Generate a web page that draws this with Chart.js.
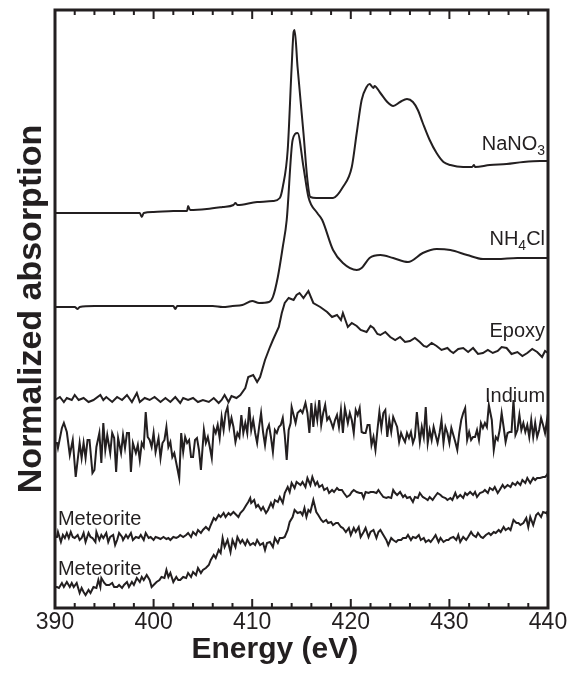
<!DOCTYPE html>
<html>
<head>
<meta charset="utf-8">
<title>N K-edge XANES</title>
<script src="https://cdn.jsdelivr.net/npm/chart.js@4.4.1/dist/chart.umd.min.js"></script>
<style>
  html, body { margin: 0; padding: 0; background: #fff; }
  #wrap { width: 574px; height: 676px; position: relative; }
</style>
</head>
<body>
<div id="wrap"><canvas id="xanes"></canvas></div>
<script>
// Spectra as [energy (eV), absorption (arb. units, stacked)]
const nano3 = [
  [390, 395], [392, 395], [394, 395], [396, 395], [398.6, 395], [398.8, 391], [399.0, 395],
  [400, 396], [402, 397], [403.4, 397], [403.5, 402], [403.7, 398], [405.4, 399], [407, 401],
  [408.1, 403], [408.3, 405], [408.5, 403], [410.5, 406], [412.1, 407], [412.8, 410],
  [413.1, 421], [413.6, 458], [414.0, 541], [414.2, 576], [414.3, 578], [414.6, 541],
  [415.2, 475], [415.6, 428], [415.9, 411], [416.5, 410], [418.2, 410], [419.2, 421],
  [420.1, 441], [420.6, 475], [421.1, 508], [421.6, 521], [421.9, 524], [422.3, 520],
  [422.4, 522], [423.0, 515], [423.7, 506], [424.3, 502], [425.0, 506], [425.7, 509],
  [426.3, 506], [426.8, 498], [427.3, 485], [428.0, 468], [428.7, 455], [429.4, 446],
  [430.1, 443], [431.4, 441], [432.3, 441], [432.5, 443], [432.6, 441], [434.1, 443],
  [435.8, 444], [437.5, 446], [439.2, 447], [440, 447]
];

const nh4cl = [
  [390, 301], [392, 301], [392.3, 299], [392.5, 301], [394, 302], [396, 302], [398, 302],
  [400, 302], [402.0, 302], [402.2, 299], [402.4, 302], [404, 302], [406, 302], [407, 301],
  [408, 302], [409, 303], [410, 307], [410.7, 305], [411.7, 306], [412.1, 311], [412.6, 331],
  [413.1, 361], [413.5, 388], [414.1, 468], [414.6, 475], [415.2, 441], [415.7, 411],
  [416.6, 395], [417.1, 388], [418.2, 358], [419.2, 345], [420.6, 338], [421.1, 340],
  [421.9, 350], [423.0, 353], [424.3, 350], [425.8, 346], [427.3, 355], [428.7, 359],
  [430.1, 358], [431.8, 353], [433.4, 349], [434.8, 349], [436.9, 350], [438.5, 350], [440, 350]
];

const epoxy = [
  [390.0, 208], [390.5, 211], [390.9, 206], [391.2, 210], [391.7, 208], [392.0, 213], [392.4, 208],
  [392.9, 210], [393.4, 206], [393.9, 208], [394.6, 213], [394.9, 208], [395.2, 211], [395.8, 206],
  [396.3, 211], [396.8, 208], [397.3, 213], [397.8, 206], [398.3, 215], [398.6, 206], [399.1, 210],
  [399.6, 208], [400.1, 211], [400.7, 206], [401.2, 210], [401.7, 206], [402.2, 211], [402.7, 205],
  [403.0, 210], [403.5, 208], [404.0, 210], [404.5, 206], [405.0, 208], [405.6, 206], [406.1, 210],
  [406.6, 205], [406.9, 208], [407.2, 213], [407.6, 206], [407.9, 212], [408.4, 210], [408.8, 213],
  [409.3, 220], [409.6, 231], [410.1, 233], [410.5, 226], [410.8, 231], [411.3, 248], [411.8, 261],
  [412.1, 268], [412.7, 281], [413.0, 295], [413.3, 305], [413.7, 310], [414.2, 308], [414.5, 313],
  [414.8, 315], [415.2, 310], [415.7, 317], [416.2, 305], [416.9, 301], [417.6, 296], [418.1, 291],
  [418.6, 293], [419.0, 288], [419.2, 295], [419.7, 281], [420.1, 285], [420.6, 282], [421.0, 278],
  [421.6, 276], [422.0, 282], [422.3, 280], [422.7, 274], [423.0, 273], [423.5, 276], [424.0, 271],
  [424.5, 268], [425.0, 271], [425.5, 266], [426.0, 267], [426.5, 270], [427.0, 266], [427.4, 262],
  [427.7, 261], [428.2, 265], [428.7, 262], [429.2, 258], [429.8, 260], [430.1, 257], [430.4, 255],
  [430.9, 259], [431.4, 260], [431.9, 256], [432.4, 260], [432.9, 254], [433.4, 255], [433.9, 258],
  [434.4, 255], [434.9, 257], [435.3, 261], [435.8, 260], [436.3, 254], [436.9, 256], [437.4, 252],
  [437.9, 255], [438.4, 259], [438.9, 256], [439.4, 251], [439.7, 257], [440.0, 255]
];

const indium = [
  [390.0, 165], [390.2, 165], [390.3, 160], [390.7, 180], [390.9, 185], [391.2, 176], [391.5, 153],
  [391.8, 168], [392.1, 131], [392.5, 165], [392.7, 150], [392.9, 165], [393.1, 150], [393.3, 168],
  [393.5, 168], [393.8, 135], [394.0, 138], [394.2, 161], [394.5, 175], [394.7, 145], [394.9, 185],
  [395.1, 158], [395.3, 173], [395.6, 155], [395.8, 175], [396.0, 170], [396.2, 136], [396.4, 170],
  [396.7, 155], [396.9, 173], [397.1, 160], [397.3, 175], [397.5, 175], [397.7, 136], [397.9, 165],
  [398.2, 155], [398.4, 163], [398.6, 148], [398.8, 165], [399.0, 161], [399.2, 196], [399.4, 171],
  [399.6, 168], [399.8, 161], [400.0, 175], [400.2, 156], [400.5, 170], [400.7, 150], [400.9, 165],
  [401.1, 168], [401.3, 181], [401.5, 161], [401.7, 166], [401.9, 151], [402.1, 155], [402.3, 145],
  [402.6, 130], [402.8, 175], [403.0, 156], [403.2, 171], [403.4, 165], [403.6, 168], [403.8, 151],
  [404.0, 151], [404.2, 168], [404.4, 170], [404.6, 158], [404.8, 138], [405.1, 178], [405.3, 165],
  [405.5, 171], [405.7, 161], [405.9, 150], [406.1, 180], [406.3, 175], [406.5, 183], [406.7, 170],
  [406.9, 191], [407.1, 178], [407.3, 195], [407.5, 201], [407.7, 181], [407.9, 190], [408.1, 181],
  [408.3, 166], [408.5, 175], [408.7, 171], [408.9, 193], [409.1, 175], [409.3, 185], [409.5, 175],
  [409.7, 201], [409.9, 178], [410.1, 188], [410.3, 175], [410.5, 165], [410.7, 181], [410.9, 195],
  [411.1, 176], [411.3, 163], [411.5, 178], [411.7, 183], [411.9, 171], [412.1, 156], [412.3, 178],
  [412.5, 175], [412.7, 181], [412.9, 183], [413.1, 190], [413.3, 173], [413.5, 148], [413.7, 178],
  [413.9, 185], [414.0, 201], [414.2, 193], [414.4, 185], [414.6, 195],
  [414.9, 198], [415.1, 195], [415.4, 205], [415.6, 195], [415.8, 175], [416.0, 205], [416.2, 181],
  [416.4, 201], [416.6, 188], [416.8, 208], [417.0, 183], [417.2, 195], [417.4, 203], [417.6, 188],
  [417.8, 191], [418.0, 186], [418.2, 180], [418.4, 188], [418.6, 193], [418.8, 181], [419.0, 198],
  [419.2, 175], [419.4, 200], [419.7, 185], [419.9, 195], [420.1, 188], [420.3, 175], [420.5, 198],
  [420.7, 193], [420.9, 200], [421.1, 176], [421.3, 175], [421.5, 175], [421.7, 183], [421.9, 183],
  [422.1, 163], [422.3, 171], [422.5, 158], [422.7, 178], [422.9, 196], [423.1, 180], [423.3, 195],
  [423.5, 198], [423.7, 171], [423.9, 188], [424.1, 176], [424.3, 191], [424.5, 186], [424.7, 181],
  [424.9, 166], [425.1, 175], [425.3, 170], [425.5, 166], [425.7, 175], [425.9, 170], [426.1, 176],
  [426.3, 165], [426.5, 171], [426.7, 196], [427.0, 166], [427.2, 181], [427.4, 171], [427.6, 201],
  [427.8, 165], [428.0, 178], [428.2, 168], [428.4, 181], [428.6, 173], [428.8, 165], [429.0, 175],
  [429.2, 188], [429.4, 165], [429.6, 181], [429.8, 175], [430.0, 165], [430.2, 180], [430.4, 173],
  [430.6, 166], [430.8, 158], [431.0, 175], [431.2, 188], [431.4, 195], [431.6, 200], [431.8, 168],
  [432.0, 176], [432.2, 168], [432.4, 171], [432.6, 171], [432.8, 178], [433.0, 168], [433.2, 185],
  [433.4, 180], [433.6, 185], [433.8, 181], [434.0, 203], [434.3, 188], [434.5, 158], [434.7, 171],
  [434.9, 168], [435.1, 178], [435.3, 195], [435.5, 181], [435.7, 166], [435.9, 175], [436.1, 176],
  [436.3, 176], [436.5, 208], [436.7, 173], [436.9, 178], [437.1, 193], [437.3, 178], [437.5, 185],
  [437.7, 176], [437.9, 183], [438.1, 171], [438.3, 188], [438.5, 171], [438.7, 185], [438.9, 171],
  [439.1, 178], [439.3, 190], [439.5, 183], [439.7, 175], [439.9, 188], [440.0, 173]
];

const meteoriteA = [
  [390.0, 71], [390.2, 71], [390.3, 76], [390.6, 66], [390.8, 73], [391.0, 70], [391.2, 75],
  [391.4, 70], [391.6, 76], [391.8, 71], [392.0, 70], [392.3, 73], [392.5, 68], [392.7, 70],
  [392.9, 75], [393.1, 66], [393.4, 75], [393.6, 71], [393.8, 70], [394.1, 66], [394.2, 76],
  [394.5, 68], [394.7, 73], [394.9, 70], [395.2, 75], [395.4, 66], [395.6, 71], [395.9, 73],
  [396.1, 63], [396.3, 68], [396.5, 75], [396.8, 71], [396.9, 68], [397.2, 73], [397.4, 70],
  [397.7, 75], [397.9, 68], [398.2, 71], [398.5, 70], [398.7, 73], [399.0, 68], [399.2, 75],
  [399.5, 70], [399.7, 71], [400.0, 68], [400.2, 71], [400.5, 70], [400.7, 69], [401.0, 71],
  [401.3, 69], [401.5, 70], [401.7, 68], [402.0, 71], [402.3, 70], [402.5, 71], [402.7, 73],
  [403.0, 71], [403.3, 73], [403.5, 75], [403.8, 71], [404.0, 76], [404.3, 73], [404.5, 78],
  [404.8, 75], [405.0, 78], [405.3, 81], [405.6, 78], [405.8, 83], [406.1, 90], [406.3, 88],
  [406.6, 93], [406.8, 91], [407.1, 95], [407.3, 91], [407.6, 95], [407.8, 93], [408.1, 96],
  [408.4, 93], [408.6, 91], [408.8, 95], [409.1, 98], [409.4, 103], [409.6, 106], [409.8, 110],
  [409.9, 105], [410.2, 108], [410.4, 101], [410.6, 103], [410.9, 98], [411.1, 101], [411.4, 95],
  [411.6, 98], [411.9, 105], [412.1, 101], [412.3, 108], [412.6, 106], [412.8, 111], [413.1, 105],
  [413.3, 115], [413.6, 121], [413.8, 116], [414.0, 125], [414.3, 120], [414.5, 126],
  [414.9, 123], [415.1, 126], [415.4, 121], [415.6, 130], [415.9, 123], [416.1, 131], [416.4, 123],
  [416.6, 126], [416.8, 121], [417.1, 123], [417.3, 118], [417.6, 120], [417.8, 115], [418.1, 118],
  [418.3, 116], [418.6, 120], [418.8, 118], [419.1, 118], [419.3, 115], [419.6, 111], [419.9, 113],
  [420.1, 116], [420.3, 118], [420.6, 116], [420.9, 115], [421.1, 115], [421.3, 110], [421.5, 116],
  [421.8, 115], [422.0, 116], [422.3, 116], [422.6, 115], [422.8, 118], [423.0, 115], [423.3, 111],
  [423.6, 110], [423.8, 111], [424.1, 110], [424.3, 118], [424.5, 115], [424.7, 113], [425.0, 116],
  [425.3, 111], [425.5, 113], [425.7, 110], [426.0, 111], [426.3, 106], [426.5, 111], [426.8, 110],
  [427.0, 115], [427.3, 111], [427.5, 110], [427.8, 108], [428.0, 111], [428.3, 108], [428.5, 111],
  [428.8, 115], [429.1, 113], [429.3, 111], [429.6, 110], [429.8, 108], [430.1, 110], [430.3, 108],
  [430.6, 115], [430.8, 110], [431.1, 113], [431.4, 110], [431.6, 115], [431.8, 113], [432.1, 116],
  [432.4, 113], [432.6, 116], [432.8, 111], [433.1, 115], [433.4, 116], [433.6, 118], [433.9, 115],
  [434.1, 120], [434.4, 118], [434.6, 121], [434.9, 115], [435.1, 118], [435.4, 123], [435.6, 120],
  [435.9, 123], [436.2, 121], [436.4, 125], [436.7, 123], [436.9, 126], [437.2, 123], [437.4, 128],
  [437.7, 125], [437.9, 130], [438.2, 125], [438.5, 130], [438.7, 128], [438.9, 130], [439.2, 130],
  [439.5, 131], [439.7, 131], [439.9, 133], [440.0, 135]
];

const meteoriteB = [
  [390.0, 21], [390.2, 21], [390.4, 20], [390.7, 25], [390.9, 21], [391.2, 26], [391.5, 21],
  [391.7, 25], [391.9, 21], [392.2, 25], [392.5, 15], [392.7, 20], [392.9, 16], [393.1, 13],
  [393.4, 18], [393.6, 15], [393.9, 21], [394.2, 20], [394.4, 28], [394.6, 21], [394.7, 30],
  [395.0, 25], [395.2, 23], [395.5, 23], [395.8, 25], [396.0, 21], [396.3, 21], [396.5, 23],
  [396.8, 20], [397.0, 23], [397.3, 26], [397.5, 21], [397.8, 26], [398.0, 23], [398.3, 30],
  [398.6, 26], [398.8, 31], [399.0, 28], [399.3, 33], [399.6, 28], [399.8, 21], [400.0, 23],
  [400.3, 26], [400.6, 28], [400.8, 31], [401.1, 30], [401.3, 38], [401.5, 31], [401.7, 35],
  [402.0, 26], [402.3, 31], [402.5, 28], [402.7, 28], [403.0, 31], [403.3, 30], [403.5, 35],
  [403.8, 31], [404.0, 36], [404.3, 33], [404.5, 40], [404.8, 35], [405.0, 38], [405.3, 40],
  [405.6, 43], [405.8, 48], [406.1, 53], [406.3, 50], [406.6, 58], [406.8, 55], [407.0, 70],
  [407.2, 61], [407.5, 68], [407.8, 56], [408.0, 68], [408.3, 61], [408.5, 71], [408.8, 65],
  [409.0, 68], [409.3, 63], [409.5, 68], [409.8, 63], [410.1, 65], [410.3, 63], [410.5, 68],
  [410.8, 63], [411.1, 65], [411.3, 58], [411.5, 65], [411.8, 66], [412.1, 61], [412.3, 70],
  [412.6, 65], [412.8, 70], [413.1, 70], [413.3, 71], [413.6, 78], [413.8, 86], [414.1, 91],
  [414.3, 98], [414.6, 95],
  [414.9, 96], [415.1, 93], [415.3, 100], [415.5, 91], [415.7, 98], [415.9, 96], [416.2, 108],
  [416.5, 96], [416.7, 93], [417.0, 88], [417.2, 86], [417.5, 88], [417.7, 85], [418.0, 86],
  [418.2, 83], [418.5, 85], [418.7, 85], [419.0, 81], [419.2, 80], [419.5, 76], [419.8, 80],
  [420.0, 73], [420.3, 80], [420.5, 76], [420.8, 81], [421.0, 71], [421.3, 76], [421.5, 80],
  [421.8, 71], [422.0, 76], [422.3, 78], [422.6, 70], [422.8, 76], [423.0, 78], [423.3, 73],
  [423.6, 68], [423.8, 63], [424.1, 70], [424.3, 68], [424.6, 66], [424.8, 68], [425.1, 68],
  [425.3, 70], [425.6, 70], [425.8, 73], [426.1, 68], [426.3, 71], [426.6, 70], [426.9, 73],
  [427.1, 68], [427.4, 70], [427.6, 66], [427.9, 68], [428.1, 66], [428.4, 70], [428.6, 73],
  [428.9, 66], [429.1, 70], [429.4, 66], [429.7, 68], [429.9, 68], [430.1, 70], [430.4, 71],
  [430.7, 68], [430.9, 73], [431.1, 66], [431.4, 71], [431.7, 68], [431.9, 71], [432.2, 76],
  [432.4, 73], [432.7, 71], [432.9, 75], [433.2, 71], [433.4, 70], [433.7, 73], [434.0, 75],
  [434.2, 73], [434.5, 76], [434.7, 75], [435.0, 78], [435.2, 76], [435.5, 81], [435.7, 78],
  [436.0, 80], [436.2, 78], [436.5, 88], [436.8, 85], [437.0, 85], [437.2, 83], [437.5, 85],
  [437.8, 90], [438.0, 81], [438.2, 91], [438.5, 83], [438.8, 93], [439.0, 95], [439.3, 91],
  [439.5, 96], [439.8, 95], [439.9, 96], [440.0, 90]
];

const xTicksMajor = [390, 400, 410, 420, 430, 440];

const ink = '#231f20';
const fontStack = 'Arial, "Liberation Sans", Helvetica, sans-serif';

Chart.defaults.font.family = fontStack;
Chart.defaults.color = ink;

function toPoints(rows) {
  return rows.map(r => ({ x: r[0], y: r[1] }));
}

function line(rows, smooth) {
  return {
    data: toPoints(rows),
    borderColor: ink,
    borderWidth: 2,
    pointRadius: 0,
    fill: false,
    tension: 0,
    cubicInterpolationMode: smooth ? 'monotone' : 'default'
  };
}

// curve names, drawn next to each spectrum: [text, subscript, text after]
const curveNames = [
  { parts: ['NaNO', '3', ''], at: [439.7, 458], side: 'right' },
  { parts: ['NH', '4', 'Cl'], at: [439.7, 363], side: 'right' },
  { parts: ['Epoxy', '', ''], at: [439.7, 271], side: 'right' },
  { parts: ['Indium', '', ''], at: [439.7, 206], side: 'right' },
  { parts: ['Meteorite', '', ''], at: [390.3, 83], side: 'left' },
  { parts: ['Meteorite', '', ''], at: [390.3, 33], side: 'left' }
];

const nameTags = {
  id: 'nameTags',
  afterDraw(chart) {
    const { ctx, scales: { x, y } } = chart;
    const big = '20px ' + fontStack;
    const small = '14px ' + fontStack;
    ctx.save();
    ctx.fillStyle = ink;
    ctx.textBaseline = 'alphabetic';
    ctx.textAlign = 'left';
    curveNames.forEach(n => {
      const [main, sub, tail] = n.parts;
      ctx.font = big;
      const w1 = ctx.measureText(main).width;
      const w3 = ctx.measureText(tail).width;
      ctx.font = small;
      const w2 = sub ? ctx.measureText(sub).width : 0;
      const total = w1 + w2 + w3;
      let px = x.getPixelForValue(n.at[0]);
      const py = y.getPixelForValue(n.at[1]);
      if (n.side === 'right') px -= total;
      ctx.font = big;
      ctx.fillText(main, px, py);
      if (sub) {
        ctx.font = small;
        ctx.fillText(sub, px + w1, py + 5);
      }
      ctx.font = big;
      ctx.fillText(tail, px + w1 + w2, py);
    });

    // axis title under the tick labels, a little left of the plot centre
    ctx.font = 'bold 30px ' + fontStack;
    ctx.textAlign = 'center';
    ctx.textBaseline = 'middle';
    ctx.fillText('Energy (eV)', x.getPixelForValue(412.3), 650);
    ctx.restore();
  }
};

// box round the plot, with inward ticks on top and bottom
const frame = {
  id: 'frame',
  afterDraw(chart) {
    const { ctx, chartArea: a, scales: { x } } = chart;
    ctx.save();
    ctx.strokeStyle = ink;
    ctx.lineWidth = 2;
    x.ticks.forEach(t => {
      const px = x.getPixelForValue(t.value);
      const len = xTicksMajor.includes(t.value) ? 9 : 5;
      ctx.beginPath();
      ctx.moveTo(px, a.bottom);
      ctx.lineTo(px, a.bottom - len);
      ctx.moveTo(px, a.top);
      ctx.lineTo(px, a.top + len);
      ctx.stroke();
    });
    ctx.lineWidth = 3;
    ctx.strokeRect(a.left, a.top, a.right - a.left, a.bottom - a.top);
    ctx.restore();
  }
};

new Chart(document.getElementById('xanes'), {
  type: 'line',
  data: {
    datasets: [
      line(nano3, true),
      line(nh4cl, true),
      line(epoxy, false),
      line(indium, false),
      line(meteoriteA, false),
      line(meteoriteB, false)
    ]
  },
  options: {
    responsive: true,
    maintainAspectRatio: false,
    animation: false,
    layout: { padding: { top: 10, right: 26, bottom: 0, left: 0 } },
    plugins: {
      legend: { display: false },
      tooltip: { enabled: false }
    },
    scales: {
      x: {
        type: 'linear',
        min: 390,
        max: 440,
        grid: { display: false },
        border: { display: false },
        ticks: {
          stepSize: 2,
          autoSkip: false,
          maxRotation: 0,
          padding: -7,
          color: ink,
          font: { size: 23 },
          callback: v => (xTicksMajor.includes(v) ? String(v) : '')
        },
        title: { display: false },
        afterFit: s => { s.height = 68; }
      },
      y: {
        min: 0,
        max: 598,
        grid: { display: false },
        border: { display: false },
        ticks: { display: false },
        title: {
          display: true,
          text: 'Normalized absorption',
          color: ink,
          font: { size: 34, weight: 'bold' },
          padding: { top: 11, bottom: 0 }
        },
        afterFit: s => { s.width = 55; }
      }
    }
  },
  plugins: [nameTags, frame]
});
</script>
</body>
</html>
